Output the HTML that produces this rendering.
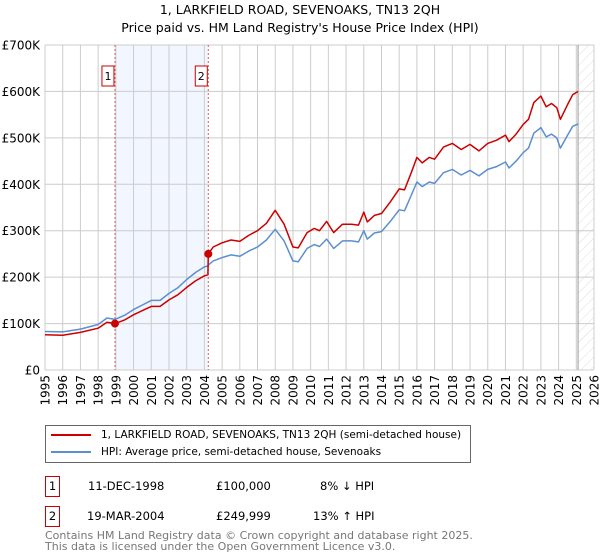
<!DOCTYPE html>
<html><head><meta charset="utf-8">
<style>
body{margin:0;background:#fff;font-family:"DejaVu Sans","Liberation Sans",sans-serif;}
#wrap{position:relative;width:600px;height:560px;overflow:hidden;}
.t{position:absolute;white-space:nowrap;color:#000;}
</style></head>
<body>
<div id="wrap">
<div class="t" style="left:0;width:600px;text-align:center;top:1px;font-size:12.5px;line-height:18px;">1, LARKFIELD ROAD, SEVENOAKS, TN13 2QH<br>Price paid vs. HM Land Registry's House Price Index (HPI)</div>
<svg id="chart" width="600" height="420" style="position:absolute;left:0;top:0;"></svg>
<div style="position:absolute;left:45px;top:425px;width:424px;height:36px;border:1px solid #666;font-size:10.5px;white-space:nowrap;">
  <div style="position:absolute;left:5px;top:3px;"><span style="display:inline-block;width:40px;height:2px;background:#cc0000;vertical-align:middle;margin-right:10px;"></span>1, LARKFIELD ROAD, SEVENOAKS, TN13 2QH (semi-detached house)</div>
  <div style="position:absolute;left:5px;top:20px;"><span style="display:inline-block;width:40px;height:2px;background:#5b8fd0;vertical-align:middle;margin-right:10px;"></span>HPI: Average price, semi-detached house, Sevenoaks</div>
</div>
<div style="position:absolute;left:0;top:476px;width:600px;height:20px;font-size:11.5px;">
  <div style="position:absolute;left:45px;top:0;width:13px;height:19px;border:1px solid #cc0000;text-align:center;line-height:19px;">1</div>
  <div class="t" style="left:88px;top:3px;">11-DEC-1998</div>
  <div class="t" style="left:216px;top:3px;">£100,000</div>
  <div class="t" style="left:320px;top:3px;">8% ↓ HPI</div>
</div>
<div style="position:absolute;left:0;top:506px;width:600px;height:20px;font-size:11.5px;">
  <div style="position:absolute;left:45px;top:0;width:13px;height:19px;border:1px solid #cc0000;text-align:center;line-height:19px;">2</div>
  <div class="t" style="left:87px;top:3px;">19-MAR-2004</div>
  <div class="t" style="left:216px;top:3px;">£249,999</div>
  <div class="t" style="left:313px;top:3px;">13% ↑ HPI</div>
</div>
<div class="t" style="left:45px;top:530px;font-size:11px;line-height:11px;color:#777;">Contains HM Land Registry data © Crown copyright and database right 2025.<br>This data is licensed under the Open Government Licence v3.0.</div>
</div>
<script>
const dates=[1995,1996,1997,1998,1998.5,1998.95,1999.5,2000,2000.5,2001,2001.5,2002,2002.5,2003,2003.5,2004,2004.2,2004.22,2004.5,2005,2005.5,2006,2006.5,2007,2007.5,2008,2008.5,2009,2009.3,2009.8,2010.2,2010.5,2010.9,2011.3,2011.8,2012.3,2012.7,2013,2013.2,2013.6,2014,2014.5,2015,2015.3,2015.7,2016,2016.3,2016.7,2017,2017.5,2018,2018.5,2019,2019.5,2020,2020.5,2021,2021.2,2021.6,2022,2022.3,2022.6,2023,2023.3,2023.6,2023.9,2024.1,2024.5,2024.8,2025.1];
const hpi=[83,82,88,98,112,109,118,130,140,150,150,165,177,195,210,222,224,226,235,242,248,245,256,265,280,303,278,235,233,262,270,266,282,262,278,278,276,300,282,295,298,320,345,343,378,405,395,405,402,425,432,420,430,418,432,438,448,435,450,468,478,510,522,502,508,500,478,505,525,530];
const prop=[76,75,81,90,103,100,108,119,128,137,137,151,162,178,192,203,205,250,265,274,280,277,290,300,316,344,314,265,263,296,305,300,320,296,314,314,312,340,319,333,337,362,390,388,427,458,446,458,454,480,488,475,486,472,488,495,506,492,508,529,540,576,590,567,574,565,540,571,593,600];
const sales=[{d:1998.95,v:100,label:"1"},{d:2004.22,v:250,label:"2"}];
const yTicks=[0,100,200,300,400,500,600,700];
const yTickLabels=["£0","£100K","£200K","£300K","£400K","£500K","£600K","£700K"];
const years=[];for(let y=1995;y<=2026;y++)years.push(y);
const X0=45,X1=594,Y0=370,Y1=45,yr0=1995,yr1=2026,vmax=700,dataEnd=2025.1;
const sx=d=>X0+(d-yr0)/(yr1-yr0)*(X1-X0);
const sy=v=>Y0-v/vmax*(Y0-Y1);
const FF='DejaVu Sans, Liberation Sans, sans-serif';
const svg=document.getElementById('chart');const NS='http://www.w3.org/2000/svg';
function mk(tag,attrs,parent){const e=document.createElementNS(NS,tag);for(const k in attrs)e.setAttribute(k,attrs[k]);(parent||svg).appendChild(e);return e;}
const defs=mk('defs',{});
const pat=mk('pattern',{id:'hatch',width:7,height:7,patternUnits:'userSpaceOnUse',patternTransform:'rotate(45)'},defs);
mk('line',{x1:0,y1:0,x2:0,y2:7,stroke:'#d4d4d4','stroke-width':0.8},pat);
const band=mk('rect',{x:sx(sales[0].d),y:Y1,width:sx(sales[1].d)-sx(sales[0].d),height:Y0-Y1,fill:'#f2f6fe'});


const hat=mk('rect',{x:sx(dataEnd),y:Y1,width:X1-sx(dataEnd),height:Y0-Y1,fill:'url(#hatch)'});


years.forEach(y=>{const l=mk('line',{x1:sx(y),x2:sx(y),y1:Y1,y2:Y0,stroke:'#ccc','stroke-width':1});


const t=mk('text',{x:0,y:0,transform:`translate(${sx(y)+4.5},${Y0+5}) rotate(-90)`,'text-anchor':'end','font-size':'12','font-family':FF});t.textContent=y;

});
yTicks.forEach((v,i)=>{const l=mk('line',{x1:X0,x2:X1,y1:sy(v),y2:sy(v),stroke:'#ccc','stroke-width':1});


const t=mk('text',{x:X0-5,y:sy(v)+4.5,'text-anchor':'end','font-size':'12','font-family':FF});t.textContent=yTickLabels[i];

});
const endLine=mk('line',{x1:sx(dataEnd),x2:sx(dataEnd),y1:Y1,y2:Y0,stroke:'#999','stroke-width':1});


sales.forEach(s=>{const l=mk('line',{x1:sx(s.d),x2:sx(s.d),y1:Y1,y2:Y0,stroke:'#e06060','stroke-width':1,'stroke-dasharray':'2,2'});


const g=mk('g',{});


mk('rect',{x:sx(s.d)-13,y:66,width:12,height:20,fill:'#fff',stroke:'#cc0000','stroke-width':1},g);
const t=mk('text',{x:sx(s.d)-7,y:80,'text-anchor':'middle','font-size':'11','font-family':FF},g);t.textContent=s.label;});
const pts=a=>a.map((v,i)=>sx(dates[i]).toFixed(1)+','+sy(v).toFixed(1)).join(' ');
const hl=mk('polyline',{points:pts(hpi),fill:'none',stroke:'#5b8fd0','stroke-width':1.5,'stroke-linejoin':'round'});


const pl=mk('polyline',{points:pts(prop),fill:'none',stroke:'#cc0000','stroke-width':1.5,'stroke-linejoin':'round'});


sales.forEach(s=>{const c=mk('circle',{cx:sx(s.d),cy:sy(s.v),r:4,fill:'#cc0000'});

});
</script>
</body></html>
